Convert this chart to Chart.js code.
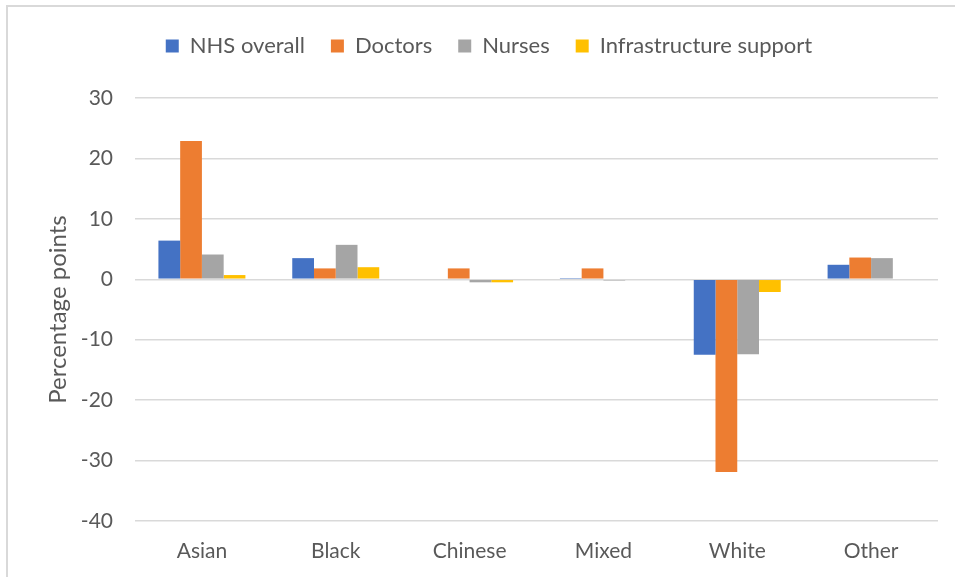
<!DOCTYPE html>
<html>
<head>
<meta charset="utf-8">
<script src="https://cdn.jsdelivr.net/npm/chart.js@4/dist/chart.umd.min.js"></script>
<style>
  html, body { margin: 0; padding: 0; background: #fff; }
  #wrap { position: relative; width: 955px; height: 577px; }
  #frame {
    position: absolute; left: 6px; top: 5px; right: 0; bottom: 0;
    border-left: 2px solid #d9d9d9; border-top: 2px solid #d9d9d9;
    pointer-events: none;
  }
</style>
</head>
<body>
<div id="wrap">
  <canvas id="gapChart" width="955" height="577"></canvas>
  <div id="frame"></div>
</div>
<script>
const groups = ['Asian', 'Black', 'Chinese', 'Mixed', 'White', 'Other'];
const nhsOverall = [6.4, 3.5, 0, 0.2, -12.5, 2.4];
const doctors = [22.9, 1.8, 1.8, 1.8, -31.9, 3.6];
const nurses = [4.1, 5.7, -0.5, -0.2, -12.4, 3.5];
const infrastructure = [0.7, 2.0, -0.5, 0, -2.1, 0];

const seriesNames = ['NHS overall', 'Doctors', 'Nurses', 'Infrastructure support'];
const seriesColours = ['#4472C4', '#ED7D31', '#A5A5A5', '#FFC000'];
const yTicks = [30, 20, 10, 0, -10, -20, -30, -40];

const textColour = '#595959';
const fontFamily = 'Lato, "Open Sans", sans-serif';

// push the plot down below the legend row
const legendSpacer = {
  id: 'legendSpacer',
  beforeInit(chart) {
    const fit = chart.legend.fit;
    chart.legend.fit = function () {
      fit.bind(chart.legend)();
      this.height += 31;
    };
  }
};

const ctx = document.getElementById('gapChart').getContext('2d');
new Chart(ctx, {
  type: 'bar',
  data: {
    labels: groups,
    datasets: [nhsOverall, doctors, nurses, infrastructure].map((values, i) => ({
      label: seriesNames[i],
      data: values,
      backgroundColor: seriesColours[i],
      borderWidth: 0,
      barPercentage: 1,
      categoryPercentage: 0.65
    }))
  },
  options: {
    responsive: false,
    animation: false,
    layout: { padding: { left: 40, right: 17, top: 9, bottom: 0 } },
    plugins: {
      legend: {
        position: 'top',
        labels: {
          color: textColour,
          font: { family: fontFamily, size: 22 },
          boxWidth: 13,
          boxHeight: 13,
          padding: 26
        }
      },
      tooltip: { enabled: false }
    },
    scales: {
      x: {
        grid: { display: false, drawTicks: false },
        border: { display: false },
        ticks: {
          color: textColour,
          font: { family: fontFamily, size: 21 },
          padding: 18
        },
        afterFit: scale => { scale.height = 56; }
      },
      y: {
        min: -40,
        max: 30,
        afterBuildTicks: scale => { scale.ticks = yTicks.map(v => ({ value: v })); },
        grid: { color: '#d9d9d9', lineWidth: 1.5, drawTicks: false },
        border: { display: false },
        ticks: {
          color: textColour,
          font: { family: fontFamily, size: 21 },
          padding: 22
        },
        title: {
          display: true,
          text: 'Percentage points',
          color: textColour,
          font: { family: fontFamily, size: 24 }
        },
        afterFit: scale => { scale.width = 95; }
      }
    }
  },
  plugins: [legendSpacer]
});
</script>
</body>
</html>
